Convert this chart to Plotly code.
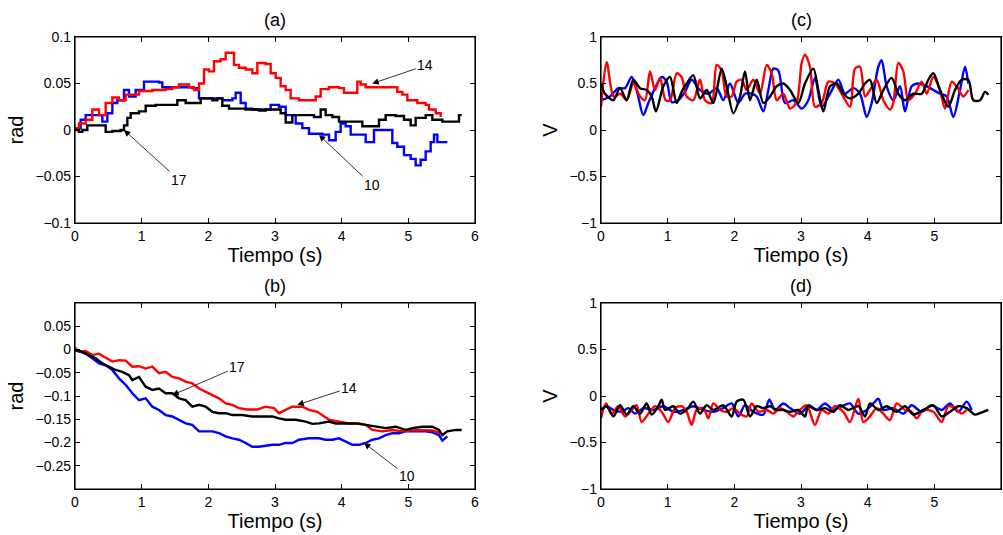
import plotly.graph_objects as go

# ---------------- data: panel (a) [rad] ----------------
a_red_t = [0, 0.06, 0.16, 0.26, 0.36, 0.46, 0.56, 0.66, 0.76, 0.86, 0.96, 1.16, 1.36, 1.46, 1.56, 1.71, 1.785,
           1.86, 1.935, 2.01, 2.085, 2.185, 2.26, 2.31, 2.385, 2.46, 2.56, 2.66, 2.735, 2.86, 2.935, 3.01, 3.085,
           3.16, 3.235, 3.36, 3.51, 3.61, 3.685, 3.81, 3.96, 4.035, 4.16, 4.235, 4.285, 4.36, 4.56, 4.785, 4.835,
           4.91, 4.985, 5.06, 5.135, 5.26, 5.31, 5.41, 5.485]
a_red_y = [0.002, 0.007, 0.011, 0.022, 0.016, 0.029, 0.035, 0.032, 0.038, 0.038, 0.042, 0.043, 0.044, 0.046,
           0.049, 0.046, 0.043, 0.050, 0.065, 0.063, 0.074, 0.076, 0.083, 0.083, 0.070, 0.067, 0.065, 0.061, 0.072,
           0.071, 0.061, 0.056, 0.047, 0.043, 0.034, 0.032, 0.032, 0.036, 0.044, 0.046, 0.045, 0.040, 0.040, 0.052,
           0.049, 0.046, 0.046, 0.046, 0.041, 0.038, 0.032, 0.032, 0.029, 0.027, 0.022, 0.018, 0.014]

a_blue_t = [0, 0.085, 0.16, 0.26, 0.36, 0.41, 0.485, 0.56, 0.635, 0.735, 0.81, 0.91, 1.035, 1.16, 1.26, 1.31,
            1.56, 1.76, 1.86, 2.06, 2.21, 2.36, 2.41, 2.485, 2.56, 2.66, 2.86, 2.935, 3.06, 3.16, 3.235, 3.31,
            3.41, 3.51, 3.71, 3.81, 3.91, 3.985, 4.06, 4.135, 4.235, 4.36, 4.485, 4.66, 4.76, 4.835, 4.935, 5.035,
            5.11, 5.185, 5.26, 5.335, 5.385, 5.435, 5.585]
a_blue_y = [0.002, 0.011, 0.016, 0.016, 0.016, 0.009, 0.018, 0.029, 0.032, 0.043, 0.036, 0.043, 0.052, 0.052,
            0.051, 0.046, 0.046, 0.045, 0.034, 0.034, 0.032, 0.034, 0.040, 0.029, 0.023, 0.022, 0.022, 0.027, 0.025,
            0.016, 0.016, 0.007, 0.002, -0.004, -0.005, -0.011, -0.002, 0.007, 0.004, -0.005, -0.005, -0.013, 0.0,
            0.0, -0.014, -0.018, -0.027, -0.031, -0.038, -0.032, -0.023, -0.013, -0.005, -0.013, -0.013]

a_black_t = [0, 0.06, 0.11, 0.185, 0.36, 0.46, 0.56, 0.685, 0.735, 0.785, 0.835, 0.96, 1.06, 1.21, 1.36, 1.535,
             1.66, 1.81, 1.885, 2.06, 2.135, 2.21, 2.31, 2.46, 2.56, 2.76, 2.86, 3.01, 3.085, 3.16, 3.26, 3.46,
             3.585, 3.685, 3.76, 3.86, 3.96, 4.16, 4.31, 4.46, 4.56, 4.66, 4.81, 4.935, 5.035, 5.11, 5.26, 5.36,
             5.51, 5.71, 5.76, 5.8]
a_black_y = [0.0, -0.002, 0.0, 0.005, 0.005, -0.002, -0.001, 0.0, 0.005, 0.013, 0.018, 0.020, 0.026, 0.027,
             0.027, 0.032, 0.029, 0.029, 0.034, 0.032, 0.034, 0.026, 0.023, 0.023, 0.022, 0.021, 0.022, 0.022,
             0.018, 0.008, 0.016, 0.016, 0.014, 0.022, 0.016, 0.014, 0.009, 0.009, 0.004, 0.004, 0.011, 0.016,
             0.015, 0.011, 0.005, 0.013, 0.016, 0.011, 0.009, 0.009, 0.016, 0.016]

# ---------------- data: panel (b) [rad] ----------------
b_red_t = [0, 0.06, 0.16, 0.26, 0.36, 0.46, 0.56, 0.66, 0.76, 0.86, 0.96, 1.06, 1.16, 1.26, 1.36, 1.46, 1.56,
           1.66, 1.76, 1.86, 1.96, 2.06, 2.16, 2.26, 2.36, 2.46, 2.585, 2.735, 2.86, 2.985, 3.06, 3.16, 3.26, 3.41,
           3.51, 3.635, 3.735, 3.81, 3.96, 4.11, 4.26, 4.36, 4.46, 4.61, 4.76, 4.91, 5.06, 5.21, 5.36, 5.485]
b_red_y = [0.004, -0.005, -0.003, -0.012, -0.009, -0.017, -0.026, -0.023, -0.024, -0.037, -0.036, -0.041,
           -0.037, -0.051, -0.048, -0.059, -0.062, -0.069, -0.073, -0.084, -0.091, -0.098, -0.105, -0.116, -0.119,
           -0.126, -0.129, -0.129, -0.123, -0.126, -0.137, -0.130, -0.123, -0.123, -0.130, -0.134, -0.144, -0.151,
           -0.155, -0.159, -0.159, -0.162, -0.173, -0.176, -0.173, -0.176, -0.173, -0.173, -0.174, -0.180]

b_blue_t = [0, 0.16, 0.26, 0.36, 0.46, 0.56, 0.66, 0.76, 0.86, 0.96, 1.06, 1.16, 1.26, 1.36, 1.46, 1.56, 1.66,
            1.76, 1.86, 1.96, 2.06, 2.16, 2.26, 2.36, 2.46, 2.56, 2.66, 2.76, 2.86, 2.96, 3.06, 3.16, 3.26, 3.36,
            3.51, 3.66, 3.76, 3.86, 3.96, 4.06, 4.16, 4.26, 4.36, 4.46, 4.56, 4.66, 4.76, 4.86, 4.96, 5.11, 5.26,
            5.36, 5.46, 5.51, 5.585]
b_blue_y = [-0.001, -0.009, -0.019, -0.030, -0.034, -0.044, -0.062, -0.076, -0.094, -0.109, -0.105, -0.123,
            -0.130, -0.141, -0.144, -0.151, -0.159, -0.162, -0.176, -0.176, -0.176, -0.180, -0.187, -0.191, -0.194,
            -0.201, -0.209, -0.209, -0.207, -0.205, -0.205, -0.201, -0.201, -0.194, -0.191, -0.191, -0.194, -0.194,
            -0.191, -0.198, -0.205, -0.205, -0.201, -0.194, -0.191, -0.184, -0.180, -0.180, -0.176, -0.176, -0.176,
            -0.178, -0.184, -0.196, -0.187]

b_black_t = [0, 0.11, 0.21, 0.31, 0.41, 0.51, 0.61, 0.71, 0.81, 0.86, 0.96, 1.06, 1.16, 1.26, 1.36, 1.46, 1.56,
             1.66, 1.76, 1.86, 1.96, 2.06, 2.16, 2.26, 2.36, 2.51, 2.66, 2.81, 2.96, 3.06, 3.16, 3.31, 3.46, 3.56,
             3.66, 3.81, 3.91, 4.06, 4.21, 4.36, 4.51, 4.66, 4.81, 4.96, 5.06, 5.21, 5.36, 5.46, 5.51, 5.585, 5.71,
             5.8]
b_black_y = [-0.001, -0.005, -0.012, -0.019, -0.030, -0.037, -0.044, -0.048, -0.055, -0.066, -0.059, -0.080,
             -0.087, -0.084, -0.094, -0.094, -0.105, -0.109, -0.123, -0.119, -0.123, -0.134, -0.137, -0.137,
             -0.141, -0.141, -0.144, -0.144, -0.144, -0.148, -0.151, -0.151, -0.155, -0.160, -0.159, -0.155,
             -0.159, -0.159, -0.159, -0.162, -0.166, -0.169, -0.166, -0.173, -0.169, -0.166, -0.166, -0.173,
             -0.184, -0.176, -0.173, -0.173]

# ---------------- data: panel (c) [V] ----------------
c_red_t = [0, 0.085, 0.19, 0.29, 0.385, 0.485, 0.585, 0.66, 0.735, 0.81, 0.885, 0.97, 1.035, 1.135, 1.21, 1.285,
           1.385, 1.485, 1.56, 1.66, 1.735, 1.81, 1.885, 1.96, 2.035, 2.11, 2.185, 2.285, 2.385, 2.485, 2.56, 2.635,
           2.735, 2.835, 2.935, 3.01, 3.06, 3.135, 3.21, 3.31, 3.41, 3.51, 3.61, 3.735, 3.81, 3.885, 3.96, 4.035,
           4.135, 4.235, 4.335, 4.385, 4.46, 4.535, 4.61, 4.71, 4.81, 4.885, 4.985, 5.085, 5.16, 5.26, 5.335, 5.435,
           5.51]
c_red_y = [0.25, 0.73, 0.36, 0.39, 0.32, 0.50, 0.36, 0.32, 0.63, 0.43, 0.56, 0.32, 0.32, 0.61, 0.57, 0.36, 0.32,
           0.54, 0.32, 0.29, 0.70, 0.64, 0.36, 0.36, 0.52, 0.54, 0.43, 0.54, 0.39, 0.70, 0.61, 0.32, 0.39, 0.23, 0.30,
           0.72, 0.81, 0.68, 0.25, 0.29, 0.52, 0.50, 0.39, 0.25, 0.66, 0.68, 0.36, 0.43, 0.54, 0.32, 0.22, 0.29, 0.72,
           0.63, 0.32, 0.39, 0.52, 0.39, 0.57, 0.43, 0.23, 0.52, 0.47, 0.36, 0.43]

c_blue_t = [0, 0.135, 0.26, 0.36, 0.46, 0.535, 0.635, 0.71, 0.81, 0.91, 0.985, 1.06, 1.16, 1.26, 1.36, 1.485,
            1.61, 1.735, 1.835, 1.935, 2.06, 2.16, 2.26, 2.335, 2.435, 2.51, 2.585, 2.66, 2.76, 2.885, 3.01, 3.11,
            3.21, 3.31, 3.435, 3.56, 3.66, 3.785, 3.885, 3.985, 4.06, 4.16, 4.21, 4.285, 4.385, 4.485, 4.56, 4.66,
            4.76, 4.86, 4.985, 5.085, 5.185, 5.285, 5.385, 5.46, 5.51]
c_blue_y = [0.32, 0.36, 0.45, 0.45, 0.57, 0.43, 0.16, 0.29, 0.45, 0.57, 0.52, 0.30, 0.32, 0.41, 0.54, 0.43, 0.39,
            0.45, 0.32, 0.50, 0.29, 0.39, 0.39, 0.36, 0.20, 0.43, 0.66, 0.64, 0.29, 0.32, 0.23, 0.32, 0.56, 0.25,
            0.39, 0.54, 0.39, 0.45, 0.39, 0.14, 0.29, 0.68, 0.75, 0.47, 0.32, 0.47, 0.20, 0.47, 0.50, 0.48, 0.43,
            0.39, 0.36, 0.14, 0.43, 0.68, 0.50]

c_black_t = [0, 0.06, 0.185, 0.285, 0.385, 0.485, 0.585, 0.685, 0.76, 0.825, 0.935, 1.035, 1.135, 1.21, 1.285,
             1.385, 1.485, 1.585, 1.685, 1.81, 1.885, 1.985, 2.085, 2.16, 2.235, 2.335, 2.435, 2.535, 2.635, 2.735,
             2.835, 2.96, 3.06, 3.185, 3.26, 3.335, 3.435, 3.535, 3.635, 3.735, 3.86, 3.96, 4.035, 4.135, 4.235,
             4.36, 4.46, 4.56, 4.685, 4.81, 4.91, 4.985, 5.085, 5.21, 5.31, 5.41, 5.51, 5.585, 5.685, 5.76, 5.81]
c_black_y = [0.50, 0.39, 0.32, 0.45, 0.32, 0.54, 0.45, 0.43, 0.36, 0.20, 0.47, 0.57, 0.29, 0.41, 0.50, 0.59,
             0.34, 0.43, 0.29, 0.66, 0.47, 0.18, 0.36, 0.63, 0.32, 0.54, 0.29, 0.36, 0.47, 0.50, 0.43, 0.29, 0.50,
             0.66, 0.43, 0.20, 0.47, 0.50, 0.39, 0.34, 0.39, 0.50, 0.54, 0.29, 0.43, 0.56, 0.39, 0.32, 0.39, 0.39,
             0.54, 0.61, 0.43, 0.25, 0.43, 0.54, 0.54, 0.32, 0.32, 0.41, 0.38]

# ---------------- data: panel (d) [V] ----------------
d_red_t = [0, 0.075, 0.16, 0.26, 0.36, 0.46, 0.535, 0.61, 0.71, 0.81, 0.91, 1.01, 1.11, 1.21, 1.285, 1.36, 1.435,
           1.535, 1.61, 1.685, 1.785, 1.885, 1.985, 2.085, 2.185, 2.26, 2.36, 2.485, 2.585, 2.685, 2.785, 2.885,
           2.985, 3.085, 3.21, 3.31, 3.41, 3.51, 3.635, 3.735, 3.86, 3.935, 4.035, 4.135, 4.235, 4.335, 4.435,
           4.56, 4.66, 4.735, 4.835, 4.985, 5.11, 5.21, 5.31, 5.41, 5.485]
d_red_y = [-0.24, -0.08, -0.19, -0.11, -0.22, -0.15, -0.10, -0.28, -0.19, -0.11, -0.17, -0.28, -0.13, -0.11,
           -0.17, -0.31, -0.15, -0.13, -0.24, -0.08, -0.15, -0.17, -0.13, -0.19, -0.22, -0.08, -0.17, -0.15, -0.19,
           -0.13, -0.17, -0.22, -0.15, -0.10, -0.31, -0.15, -0.19, -0.11, -0.17, -0.28, -0.03, -0.28, -0.22, -0.13,
           -0.19, -0.26, -0.08, -0.15, -0.17, -0.24, -0.15, -0.17, -0.28, -0.11, -0.13, -0.19, -0.15]

d_blue_t = [0, 0.085, 0.185, 0.31, 0.41, 0.51, 0.635, 0.785, 0.935, 1.085, 1.235, 1.385, 1.535, 1.685, 1.835,
            1.96, 2.06, 2.16, 2.285, 2.435, 2.525, 2.61, 2.735, 2.835, 2.985, 3.11, 3.235, 3.36, 3.485, 3.61, 3.735,
            3.86, 3.985, 4.085, 4.16, 4.235, 4.385, 4.535, 4.66, 4.81, 4.96, 5.11, 5.235, 5.36, 5.485, 5.56]
d_blue_y = [-0.15, -0.11, -0.15, -0.17, -0.13, -0.19, -0.13, -0.15, -0.11, -0.17, -0.15, -0.11, -0.15, -0.17,
            -0.13, -0.08, -0.22, -0.10, -0.17, -0.20, -0.04, -0.15, -0.08, -0.13, -0.19, -0.11, -0.15, -0.08, -0.15,
            -0.11, -0.08, -0.19, -0.15, -0.08, -0.03, -0.15, -0.13, -0.19, -0.10, -0.17, -0.10, -0.15, -0.08, -0.17,
            -0.06, -0.15]

d_black_t = [0, 0.085, 0.185, 0.285, 0.385, 0.485, 0.585, 0.685, 0.76, 0.86, 0.91, 0.96, 1.085, 1.185, 1.285,
             1.385, 1.485, 1.585, 1.685, 1.835, 1.96, 2.035, 2.135, 2.235, 2.335, 2.435, 2.535, 2.635, 2.735, 2.835,
             2.96, 3.06, 3.11, 3.235, 3.36, 3.485, 3.585, 3.71, 3.86, 3.96, 4.035, 4.16, 4.285, 4.435, 4.56, 4.685,
             4.835, 4.985, 5.11, 5.235, 5.36, 5.485, 5.61, 5.735, 5.81]
d_black_y = [-0.15, -0.11, -0.22, -0.10, -0.20, -0.11, -0.19, -0.08, -0.20, -0.11, -0.04, -0.15, -0.11, -0.19,
             -0.15, -0.06, -0.19, -0.10, -0.15, -0.10, -0.22, -0.06, -0.04, -0.22, -0.11, -0.13, -0.11, -0.15,
             -0.15, -0.17, -0.15, -0.22, -0.10, -0.15, -0.13, -0.17, -0.10, -0.15, -0.11, -0.22, -0.08, -0.15,
             -0.11, -0.17, -0.11, -0.20, -0.15, -0.10, -0.22, -0.17, -0.11, -0.13, -0.20, -0.17, -0.15]

# ---------------- labels ----------------
panel_titles = ["(a)", "(b)", "(c)", "(d)"]
x_title = "Tiempo (s)"
y_titles = ["rad", "rad", "V", "V"]
x_ticks = [0, 1, 2, 3, 4, 5, 6]
ya_ticks = [-0.1, -0.05, 0, 0.05, 0.1]
yb_ticks = [-0.25, -0.2, -0.15, -0.1, -0.05, 0, 0.05]
yv_ticks = [-1, -0.5, 0, 0.5, 1]
# arrow labels: (panel, text, head_t, head_y, dx_px, dy_px)
arrow_labels = [
    ("a", "14", 4.46, 0.050, 53, -18),
    ("a", "17", 0.735, 0.0, 55, 50),
    ("a", "10", 3.66, -0.0054, 53, 50),
    ("b", "17", 1.46, -0.098, 65, -28),
    ("b", "14", 3.335, -0.119, 52, -17),
    ("b", "10", 4.335, -0.201, 43, 33),
]

W, H = 1003, 535
FONT = "Liberation Sans, Arial, Helvetica, sans-serif"
RED, BLUE, BLACK = "#ff0000", "#0000ff", "#000000"

fig = go.Figure()

panels = {
    "a": ("x", "y", "hv", [(a_blue_t, a_blue_y, BLUE), (a_red_t, a_red_y, RED), (a_black_t, a_black_y, BLACK)]),
    "b": ("x2", "y2", "linear", [(b_blue_t, b_blue_y, BLUE), (b_red_t, b_red_y, RED), (b_black_t, b_black_y, BLACK)]),
    "c": ("x3", "y3", "spline", [(c_blue_t, c_blue_y, BLUE), (c_red_t, c_red_y, RED), (c_black_t, c_black_y, BLACK)]),
    "d": ("x4", "y4", "spline", [(d_blue_t, d_blue_y, BLUE), (d_red_t, d_red_y, RED), (d_black_t, d_black_y, BLACK)]),
}
for key, (xa, ya, shape, series) in panels.items():
    for t, v, col in series:
        line = dict(color=col, width=2.4, shape=shape)
        if shape == "spline":
            line["smoothing"] = 0.8
        fig.add_trace(go.Scatter(x=t, y=v, mode="lines", xaxis=xa, yaxis=ya,
                                 line=line, showlegend=False, hoverinfo="skip"))

# geometry in pixels (left, right, top, bottom)
boxes = {
    "a": (75, 475, 37, 223),
    "b": (75, 475, 303, 489),
    "c": (601, 1001, 37, 223),
    "d": (601, 1001, 303, 489),
}
yranges = {"a": [-0.1, 0.1], "b": [-0.3, 0.1], "c": [-1, 1], "d": [-1, 1]}
yticks = {"a": ya_ticks, "b": yb_ticks, "c": yv_ticks, "d": yv_ticks}
names = {"a": ("xaxis", "yaxis", "y", "x"), "b": ("xaxis2", "yaxis2", "y2", "x2"),
         "c": ("xaxis3", "yaxis3", "y3", "x3"), "d": ("xaxis4", "yaxis4", "y4", "x4")}
ytitle = {"a": y_titles[0], "b": y_titles[1], "c": y_titles[2], "d": y_titles[3]}
ptitle = {"a": panel_titles[0], "b": panel_titles[1], "c": panel_titles[2], "d": panel_titles[3]}

common = dict(showline=True, linecolor="#000000", linewidth=1.3, mirror="ticks", ticks="inside",
              ticklen=5, tickcolor="#000000", tickwidth=1.1, showgrid=False, zeroline=False,
              automargin=False, layer="above traces",
              tickfont=dict(family=FONT, size=14, color="black"))

layout = {}
annotations = []
shapes = []
for key, (l, r, t, b) in boxes.items():
    xn, yn, yref, xref = names[key]
    layout[xn] = dict(domain=[l / W, r / W], anchor=yref, range=[0, 6], tickvals=x_ticks,
                      title=dict(text=x_title, font=dict(family=FONT, size=20, color="black"), standoff=3),
                      **common)
    layout[yn] = dict(domain=[1 - b / H, 1 - t / H], anchor=xref, range=yranges[key], tickvals=yticks[key],
                      title=dict(text=ytitle[key], font=dict(family=FONT, size=20, color="black"), standoff=6),
                      **common)
    annotations.append(dict(text=ptitle[key], xref="paper", yref="paper", x=(l + r) / 2 / W,
                            y=1 - (t - 17) / H, xanchor="center", yanchor="middle", showarrow=False,
                            font=dict(family=FONT, size=18, color="black")))
    # axes frame (box) drawn in axis-domain coordinates
    shapes.append(dict(type="rect", xref=xref + " domain", yref=yref + " domain", x0=0, x1=1, y0=0, y1=1,
                       line=dict(color="black", width=1.2), fillcolor="rgba(0,0,0,0)", layer="above"))

for key, txt, ht, hy, dx, dy in arrow_labels:
    xn, yn, yref, xref = names[key]
    annotations.append(dict(text=txt, x=ht, y=hy, xref=xref, yref=yref, ax=dx, ay=dy, showarrow=True,
                            arrowhead=2, arrowsize=1.6, arrowwidth=0.8, arrowcolor="black",
                            font=dict(family=FONT, size=14, color="black")))

fig.update_layout(template="none", width=W, height=H, margin=dict(l=0, r=0, t=0, b=0),
                  plot_bgcolor="white", paper_bgcolor="white", annotations=annotations, shapes=shapes,
                  **layout)

fig.write_html("out.html", config={"displayModeBar": False},
               post_script="document.body.style.margin='0';document.body.style.overflow='hidden';")
